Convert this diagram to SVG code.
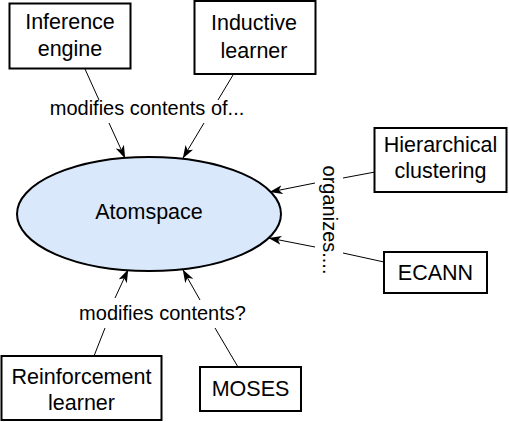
<svg xmlns="http://www.w3.org/2000/svg" width="509" height="422" viewBox="0 0 509 422">
<style>
.box{fill:#ffffff;stroke:#000000;stroke-width:2}
.nt{font-family:"Liberation Sans",Arial,sans-serif;font-size:21.5px;fill:#000000;text-anchor:middle}
.lb{font-family:"Liberation Sans",Arial,sans-serif;font-size:20px;fill:#000000;text-anchor:middle}
.ln{fill:none;stroke:#000000;stroke-width:1}
</style>
<defs>
<marker id="arr" viewBox="0 0 14 10" markerWidth="14" markerHeight="10" refX="12.5" refY="5" orient="auto" markerUnits="userSpaceOnUse">
<path d="M0,0.5 L13,5 L0,9.5 L3.5,5 Z" fill="#000000"/>
</marker>
</defs>
<rect width="509" height="422" fill="#ffffff"/>
<g id="connectors">
<line class="ln" x1="85" y1="69" x2="99" y2="100"/>
<line class="ln" x1="109" y1="123" x2="125" y2="158" marker-end="url(#arr)"/>
<line class="ln" x1="233" y1="75" x2="218" y2="100"/>
<line class="ln" x1="204" y1="123" x2="183" y2="158" marker-end="url(#arr)"/>
<line class="ln" x1="375" y1="172" x2="343" y2="178"/>
<line class="ln" x1="315" y1="183" x2="270" y2="192" marker-end="url(#arr)"/>
<line class="ln" x1="384" y1="262" x2="343" y2="253"/>
<line class="ln" x1="315" y1="247" x2="269" y2="238" marker-end="url(#arr)"/>
<line class="ln" x1="94" y1="356" x2="105" y2="328"/>
<line class="ln" x1="115" y1="298" x2="128" y2="270" marker-end="url(#arr)"/>
<line class="ln" x1="238" y1="367" x2="215" y2="328"/>
<line class="ln" x1="200" y1="300" x2="183" y2="270" marker-end="url(#arr)"/>
<text class="lb" x="147" y="115">modifies contents of...</text>
<text class="lb" x="162.5" y="320">modifies contents?</text>
<text class="lb" transform="translate(323,220) rotate(90)" x="0" y="0">organizes....</text>
</g>
<g id="atomspace">
<ellipse cx="149" cy="214" rx="132" ry="57" fill="#dae8fc" stroke="#000000" stroke-width="2"/>
<text class="nt" x="149" y="219">Atomspace</text>
</g>
<g id="inference-engine">
<rect class="box" x="9.5" y="3.5" width="121" height="65"/>
<text class="nt" x="70" y="29">Inference</text>
<text class="nt" x="70" y="56">engine</text>
</g>
<g id="inductive-learner">
<rect class="box" x="194.5" y="1" width="121" height="73"/>
<text class="nt" x="254" y="30">Inductive</text>
<text class="nt" x="254" y="58">learner</text>
</g>
<g id="hierarchical-clustering">
<rect class="box" x="374.5" y="128" width="132" height="64"/>
<text class="nt" x="440.5" y="152">Hierarchical</text>
<text class="nt" x="440.5" y="178">clustering</text>
</g>
<g id="ecann">
<rect class="box" x="384" y="252" width="103" height="41"/>
<text class="nt" x="435.5" y="280">ECANN</text>
</g>
<g id="reinforcement-learner">
<rect class="box" x="1.5" y="356" width="160" height="64"/>
<text class="nt" x="81.5" y="384">Reinforcement</text>
<text class="nt" x="81.5" y="410">learner</text>
</g>
<g id="moses">
<rect class="box" x="200" y="367" width="101" height="44"/>
<text class="nt" x="250.5" y="396">MOSES</text>
</g>
</svg>
